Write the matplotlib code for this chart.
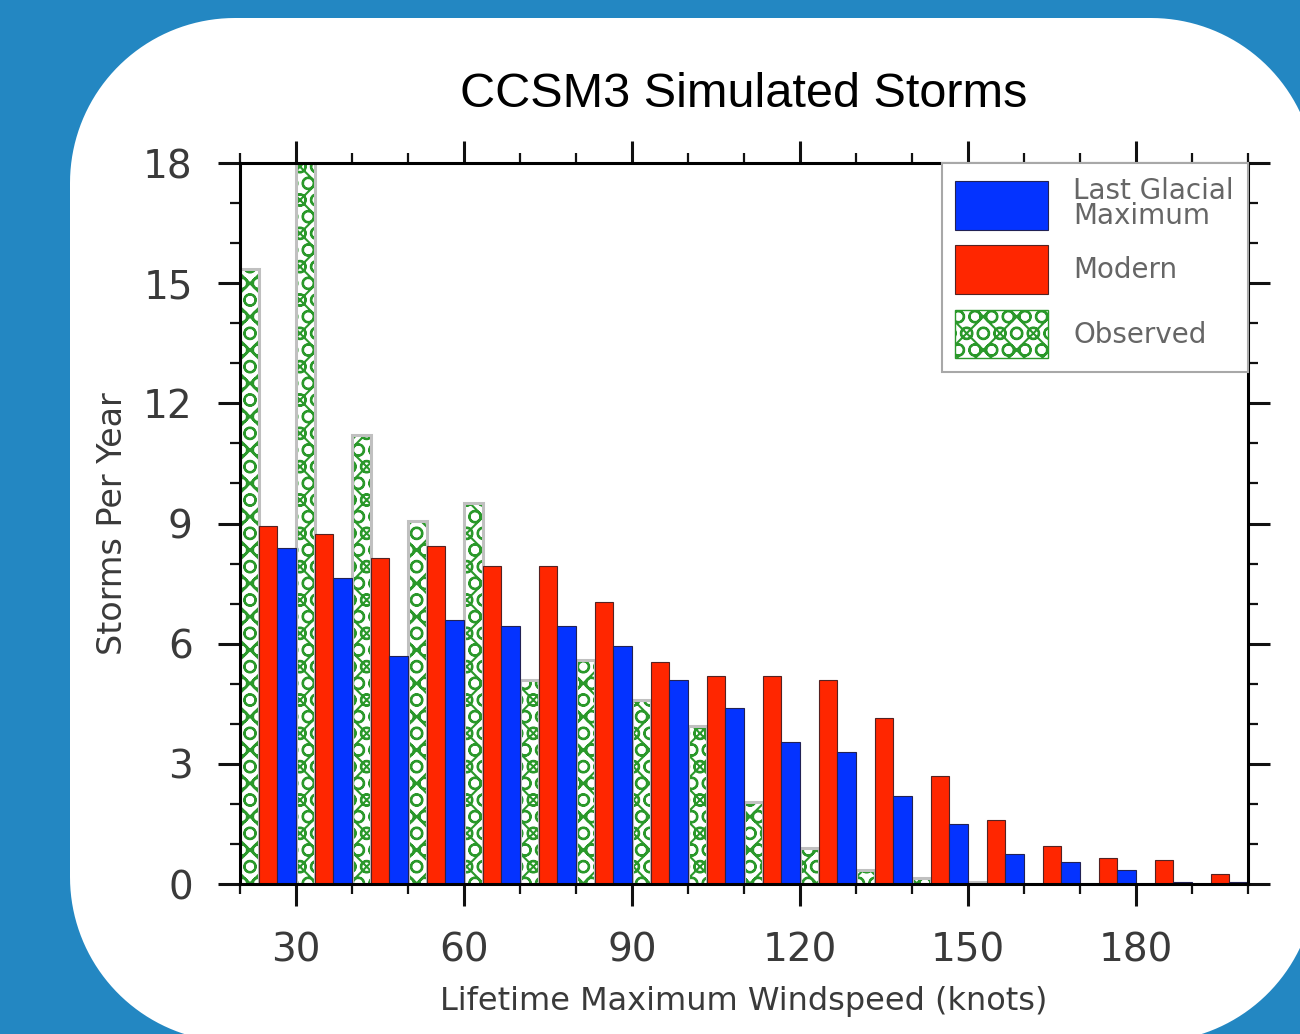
import matplotlib
matplotlib.use("Agg")
import matplotlib.pyplot as plt
from matplotlib.patches import Polygon, Patch
from matplotlib.ticker import MultipleLocator
import numpy as np

# lifetime maximum windspeed bins (knots), 10-knot wide
bin_starts = [20, 30, 40, 50, 60, 70, 80, 90, 100, 110,
              120, 130, 140, 150, 160, 170, 180, 190]
observed = [15.35, 18.0, 11.2, 9.05, 9.5, 5.1, 5.6, 4.6, 3.95, 2.05,
            0.9, 0.35, 0.15, 0.05, 0.0, 0.0, 0.0, 0.0]
modern = [8.95, 8.75, 8.15, 8.45, 7.95, 7.95, 7.05, 5.55, 5.2, 5.2,
          5.1, 4.15, 2.7, 1.6, 0.95, 0.65, 0.6, 0.25]
lgm = [8.4, 7.65, 5.7, 6.6, 6.45, 6.45, 5.95, 5.1, 4.4, 3.55,
       3.3, 2.2, 1.5, 0.75, 0.55, 0.35, 0.05, 0.05]

BLUE = "#0433ff"
RED = "#ff2600"
GREEN = "#2a982a"
BG = "#2387c2"
TXT = "#3a3a3a"

plt.rcParams["hatch.linewidth"] = 1.5

fig = plt.figure(figsize=(13, 10.34), dpi=100)
fig.patch.set_facecolor(BG)

# white panel with circular corners, drawn in pixel units
bg = fig.add_axes([0, 0, 1, 1])
bg.set_xlim(0, 1300)
bg.set_ylim(1034, 0)
bg.axis("off")
x0, y0, x1, y1, r = 70, 18, 1316, 1042, 165
pts = []
for cx, cy, a0 in [(x1 - r, y0 + r, -90), (x1 - r, y1 - r, 0),
                   (x0 + r, y1 - r, 90), (x0 + r, y0 + r, 180)]:
    a = np.radians(np.linspace(a0, a0 + 90, 40))
    pts += list(zip(cx + r * np.cos(a), cy + r * np.sin(a)))
bg.add_patch(Polygon(pts, closed=True, fc="white", ec="none"))

ax = fig.add_axes([240 / 1300, 150 / 1034, 1008 / 1300, 721 / 1034])
ax.set_zorder(2)

x = np.array(bin_starts, dtype=float)
w = 10 / 3

ax.bar(x, observed, width=w, align="edge", color="white",
       edgecolor=GREEN, linewidth=0, hatch="xO")
ax.bar(x, observed, width=w, align="edge", fill=False,
       edgecolor="#c0c0c0", linewidth=2.2)
ax.bar(x + w, modern, width=w, align="edge", color=RED,
       edgecolor="#552222", linewidth=0.8)
ax.bar(x + 2 * w, lgm, width=w, align="edge", color=BLUE,
       edgecolor="#222255", linewidth=0.8)

ax.set_xlim(20, 200)
ax.set_ylim(0, 18)
ax.xaxis.set_major_locator(MultipleLocator(30))
ax.xaxis.set_minor_locator(MultipleLocator(10))
ax.yaxis.set_major_locator(MultipleLocator(3))
ax.yaxis.set_minor_locator(MultipleLocator(1))

for s in ax.spines.values():
    s.set_linewidth(2.2)
ax.tick_params(which="both", direction="out", top=True, right=True,
               colors="#111111", labelcolor=TXT)
ax.tick_params(which="major", length=16, width=2.2, labelsize=28, pad=18)
ax.tick_params(which="minor", length=7, width=1.6)

ax.set_title("CCSM3 Simulated Storms", fontsize=35,
             family="Liberation Sans", pad=40)
ax.set_xlabel("Lifetime Maximum Windspeed (knots)", fontsize=23,
              color=TXT, labelpad=12)
ax.set_ylabel("Storms Per Year", fontsize=24, color=TXT, labelpad=10)

handles = [
    Patch(facecolor=BLUE, edgecolor="#222255", linewidth=0.8),
    Patch(facecolor=RED, edgecolor="#552222", linewidth=0.8),
    Patch(facecolor="white", edgecolor=GREEN, linewidth=1.0, hatch="xO"),
]
labels = ["Last Glacial\nMaximum", "Modern", "Observed"]
leg = ax.legend(handles, labels, loc="upper right", bbox_to_anchor=(1, 1),
                borderaxespad=0, fontsize=20, handlelength=3.35,
                handleheight=2.33, handletextpad=0.9, labelspacing=0.55,
                borderpad=0.5, fancybox=False, edgecolor="#a8a8a8",
                framealpha=1)
leg.get_frame().set_linewidth(1.5)
for t in leg.get_texts():
    t.set_color("#666666")
leg.get_texts()[0].set_linespacing(0.85)

fig.savefig("out.png", dpi=100, facecolor=fig.get_facecolor())
